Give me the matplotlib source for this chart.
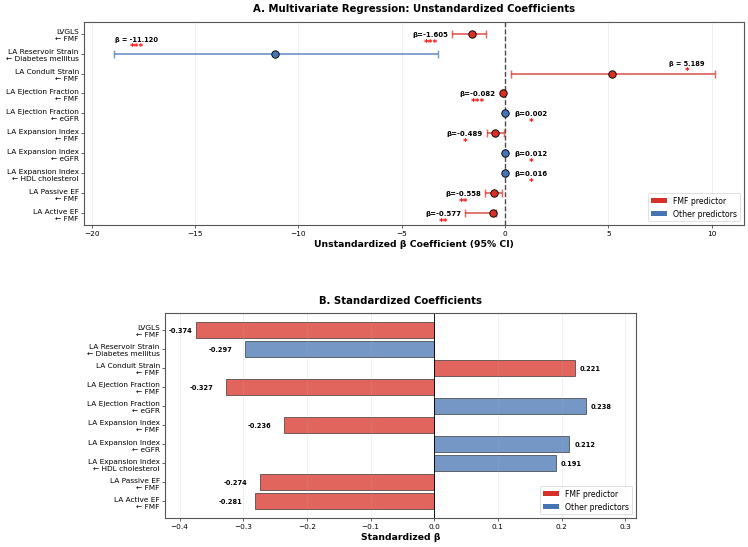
import numpy as np
import matplotlib
matplotlib.use("Agg")
import matplotlib.pyplot as plt
from matplotlib.patches import Patch

# ------------------------------------------------------------
# data
# ------------------------------------------------------------
labels = [
    "LVGLS\n← FMF",
    "LA Reservoir Strain\n← Diabetes mellitus",
    "LA Conduit Strain\n← FMF",
    "LA Ejection Fraction\n← FMF",
    "LA Ejection Fraction\n← eGFR",
    "LA Expansion Index\n← FMF",
    "LA Expansion Index\n← eGFR",
    "LA Expansion Index\n← HDL cholesterol",
    "LA Passive EF\n← FMF",
    "LA Active EF\n← FMF",
]
is_fmf = [True, False, True, True, False, True, False, False, True, True]
beta = [-1.605, -11.120, 5.189, -0.082, 0.002, -0.489, 0.012, 0.016, -0.558, -0.577]
ci_low = [-2.55, -18.92, 0.27, -0.12, -0.003, -0.89, 0.006, 0.008, -0.97, -1.94]
ci_high = [-0.92, -3.26, 10.15, -0.045, 0.007, -0.05, 0.018, 0.024, -0.13, -0.45]
stars = ["***", "***", "*", "***", "*", "*", "*", "*", "**", "**"]
std_beta = [-0.374, -0.297, 0.221, -0.327, 0.238, -0.236, 0.212, 0.191, -0.274, -0.281]

RED = "#d73027"
BLUE = "#4575b4"
colors = [RED if f else BLUE for f in is_fmf]

plt.rcParams["font.family"] = "DejaVu Sans"

fig = plt.figure(figsize=(14, 10.256), dpi=53.43)

y = np.arange(len(labels))

# ============================================================
# A) unstandardized coefficients with CI
# ============================================================
ax1 = fig.add_axes([0.1123, 0.5876, 0.8824, 0.371])

for i in range(len(labels)):
    lo, hi = ci_low[i], ci_high[i]
    ax1.errorbar(beta[i], y[i], xerr=[[beta[i] - lo], [hi - beta[i]]],
                 fmt="none", ecolor=colors[i], alpha=0.7, elinewidth=2.5,
                 capsize=6, capthick=2, zorder=2)
    ax1.plot(beta[i], y[i], "o", color=colors[i], markersize=10,
             markeredgecolor="black", markeredgewidth=1.2, zorder=3)

    width = hi - lo
    if width > 8:
        # wide CIs: label above the bar, inside the axis
        if beta[i] < 0:
            xt, dy = lo + 1.1, 0.72
        else:
            xt, dy = hi - 1.35, 0.53
        ax1.text(xt, y[i] - dy, f"β = {beta[i]:.3f}", ha="center", va="center",
                 fontsize=9, fontweight="bold")
        ax1.text(xt, y[i] - dy + 0.38, stars[i], ha="center", va="center",
                 fontsize=12, fontweight="bold", color="red")
    elif beta[i] < 0:
        xt = min(lo, beta[i] - 0.22) - 0.18
        ax1.text(xt, y[i], f"β={beta[i]:.3f}", ha="right", va="center",
                 fontsize=9.5, fontweight="bold")
        ax1.text(xt - 0.85, y[i] + 0.42, stars[i], ha="center", va="center",
                 fontsize=12, fontweight="bold", color="red")
    else:
        xt = max(hi, beta[i] + 0.22) + 0.22
        ax1.text(xt, y[i], f"β={beta[i]:.3f}", ha="left", va="center",
                 fontsize=9.5, fontweight="bold")
        ax1.text(xt + 0.8, y[i] + 0.4, stars[i], ha="center", va="center",
                 fontsize=12, fontweight="bold", color="red")

ax1.axvline(0, color="black", linestyle="--", linewidth=1.8, alpha=0.8, zorder=1)
ax1.set_yticks(y)
ax1.set_yticklabels(labels, fontsize=10)
ax1.set_ylim(len(labels) - 0.4, -0.6)
ax1.set_xlim(-20.37, 11.56)
ax1.tick_params(axis="x", labelsize=10)
ax1.set_xlabel("Unstandardized β Coefficient (95% CI)", fontsize=12.5, fontweight="bold")
ax1.set_title("A. Multivariate Regression: Unstandardized Coefficients",
              fontsize=13.6, fontweight="bold", pad=14)
ax1.grid(True, axis="x", alpha=0.3)
for s in ax1.spines.values():
    s.set_color("#555555")
    s.set_linewidth(1.5)

legend_elems = [Patch(facecolor=RED, label="FMF predictor"),
                Patch(facecolor=BLUE, label="Other predictors")]
ax1.legend(handles=legend_elems, loc="lower right", fontsize=10.5)

# ============================================================
# B) standardized coefficients
# ============================================================
ax2 = fig.add_axes([0.2206, 0.0529, 0.6297, 0.3741])

ax2.barh(y, std_beta, height=0.8, color=colors, alpha=0.75,
         edgecolor="#333333", linewidth=1.2)
for i in range(len(labels)):
    b = std_beta[i]
    if b < 0:
        xt = b - 0.02
        if xt - 0.045 < -0.423:
            xt = b - 0.006
        ax2.text(xt, y[i], f"{b:.3f}", ha="right", va="center",
                 fontsize=9, fontweight="bold")
    else:
        ax2.text(b + 0.008, y[i], f"{b:.3f}", ha="left", va="center",
                 fontsize=9, fontweight="bold")

ax2.axvline(0, color="black", linewidth=1.2)
ax2.set_yticks(y)
ax2.set_yticklabels(labels, fontsize=10)
ax2.invert_yaxis()
ax2.set_xlim(-0.423, 0.317)
ax2.tick_params(axis="x", labelsize=10)
ax2.set_xlabel("Standardized β", fontsize=12.5, fontweight="bold")
ax2.set_title("B. Standardized Coefficients", fontsize=13.6, fontweight="bold", pad=13)
ax2.grid(True, axis="x", alpha=0.3)
for s in ax2.spines.values():
    s.set_color("#555555")
    s.set_linewidth(1.5)
ax2.legend(handles=legend_elems, loc="lower right", fontsize=10.5)

fig.savefig("out.png", dpi=53.43)
print("saved out.png")
